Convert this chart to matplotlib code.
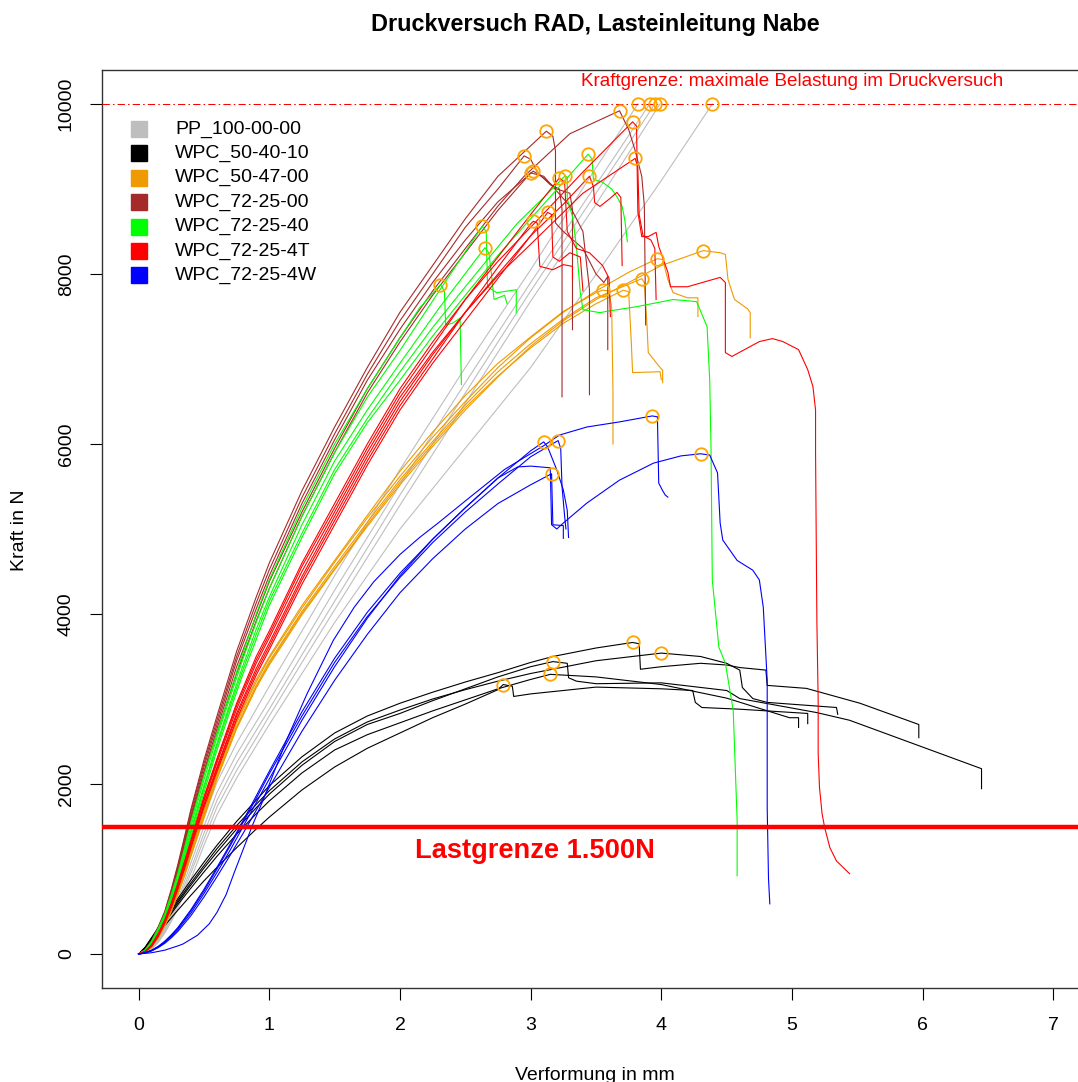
import matplotlib
matplotlib.use("Agg")
import matplotlib.pyplot as plt
import numpy as np

plt.rcParams['font.family'] = ['Liberation Sans', 'DejaVu Sans']

# %% Messdaten: Verformung (mm) und Kraft (N) je Probe
# Anstieg auf gemeinsamen Stuetzstellen (*_grid), danach probenspezifischer Verlauf (*_tail)

pp_grid = [0, 0.05, 0.1, 0.15, 0.2, 0.25, 0.3, 0.35, 0.4, 0.5, 0.6, 0.75, 0.9, 1.0, 1.25, 1.5,
           2.0, 2.5, 3.0, 3.5]
pp_rise = [
    [0, 20, 80, 180, 320, 490, 690, 910, 1150, 1600, 2020, 2480, 2880, 3150, 3800, 4450, 5700, 6900, 8050, 9250],
    [0, 18, 72, 165, 295, 455, 640, 850, 1070, 1500, 1900, 2350, 2730, 2980, 3630, 4280, 5520, 6720, 7900, 9050],
    [0, 17, 68, 155, 280, 430, 605, 800, 1000, 1420, 1810, 2250, 2630, 2880, 3520, 4150, 5400, 6600, 7800, 8950],
    [0, 16, 63, 145, 262, 405, 570, 755, 950, 1350, 1730, 2160, 2540, 2800, 3430, 4050, 5280, 6480, 7680, 8820],
    [0, 15, 58, 135, 245, 380, 535, 710, 880, 1280, 1640, 2070, 2450, 2700, 3300, 3900, 5000, 5950, 6900],
]
pp_tail_x = [[3.82], [3.91], [3.95], [3.99], [3.58, 4.0, 4.39]]
pp_tail_y = [[10000], [10000], [10000], [10000], [8170, 9100, 10000]]

k_grid = [0, 0.05, 0.1, 0.15, 0.2, 0.3, 0.4, 0.5, 0.6, 0.75, 0.9, 1.0, 1.25, 1.5, 1.75, 2.0,
          2.25, 2.5, 2.75, 3.0]
k_rise = [
    [0, 80, 195, 310, 425, 650, 870, 1080, 1280, 1560, 1810, 1980, 2320, 2600, 2800, 2950, 3080, 3200, 3310, 3430],
    [0, 75, 185, 295, 405, 625, 835, 1040, 1240, 1510, 1760, 1920, 2260, 2530, 2730, 2870, 3000, 3110, 3210, 3300],
    [0, 72, 178, 285, 390, 605, 810, 1010, 1200, 1470, 1720, 1880, 2220, 2500, 2700, 2830, 2980, 3120, 3260, 3380],
    [0, 68, 168, 272, 372, 580, 775, 965, 1150, 1410, 1650, 1800, 2130, 2400, 2580, 2720, 2860, 2990, 3120, 3230],
    [0, 60, 150, 242, 335, 515, 690, 860, 1020, 1250, 1470, 1610, 1930, 2200, 2420, 2600, 2780, 2940, 3110],
]
k_tail_x = [
    [3.17, 3.5, 3.78, 3.83, 3.84, 4.0, 4.3, 4.5, 4.6, 4.8, 4.81, 5.11, 5.52, 5.97, 5.97],
    [3.5, 4.0, 4.3, 4.5, 4.6, 4.62, 4.7, 4.81, 5.34, 5.35],
    [3.17, 3.28, 3.29, 3.35, 3.5, 4.0, 4.5, 4.6, 5.19, 5.44, 6.45, 6.45],
    [3.15, 3.5, 4.0, 4.5, 4.98, 5.05, 5.05],
    [2.79, 2.86, 2.87, 3.0, 3.5, 4.0, 4.24, 4.26, 4.31, 4.6, 5.12, 5.12],
]
k_tail_y = [
    [3500, 3600, 3665, 3650, 3350, 3380, 3420, 3400, 3370, 3340, 3160, 3125, 2950, 2700, 2545],
    [3450, 3540, 3500, 3420, 3340, 3135, 3005, 2960, 2900, 2820],
    [3440, 3420, 3250, 3210, 3180, 3190, 3100, 3005, 2840, 2750, 2180, 1945],
    [3290, 3260, 3170, 3010, 2780, 2780, 2665],
    [3170, 3150, 3030, 3060, 3140, 3120, 3100, 2960, 2900, 2880, 2830, 2710],
]

o_grid = [0, 0.05, 0.1, 0.15, 0.2, 0.25, 0.3, 0.35, 0.4, 0.5, 0.6, 0.75, 0.9, 1.0, 1.25, 1.5,
          1.75, 2.0, 2.25, 2.5, 2.75, 3.0, 3.25, 3.5]
o_rise = [
    [0, 24, 85, 190, 330, 505, 700, 915, 1150, 1600, 2060, 2650, 3130, 3400, 3990, 4520, 5030, 5520,
     5970, 6400, 6790, 7150, 7450, 7700],
    [0, 25, 90, 200, 345, 525, 730, 950, 1190, 1660, 2120, 2720, 3200, 3480, 4070, 4610, 5130, 5620,
     6080, 6500, 6900, 7250, 7550, 7800],
    [0, 24, 88, 196, 335, 515, 715, 935, 1170, 1630, 2090, 2680, 3160, 3440, 4030, 4560, 5080, 5580,
     6030, 6460, 6850, 7180, 7470, 7720],
    [0, 23, 86, 192, 330, 505, 705, 925, 1160, 1620, 2070, 2660, 3140, 3420, 4010, 4530, 5050, 5550,
     6000, 6430, 6800, 7130, 7420, 7650],
    [0, 26, 92, 205, 350, 535, 740, 965, 1200, 1680, 2140, 2740, 3230, 3500, 4100, 4630, 5160, 5680,
     6140, 6570, 6950, 7260, 7560, 7780],
]
o_tail_x = [
    [3.75, 4.0, 4.32, 4.45, 4.49, 4.51, 4.56, 4.66, 4.68, 4.68],
    [3.75, 3.97, 4.01, 4.05, 4.09, 4.2, 4.28, 4.28],
    [3.75, 3.85, 3.87, 3.89, 3.9, 3.99, 4.01, 4.01],
    [3.71, 3.75, 3.77, 3.78, 3.99, 4.0],
    [3.55, 3.6, 3.62, 3.63, 3.63],
]
o_tail_y = [
    [7900, 8100, 8275, 8250, 8230, 7935, 7700, 7590, 7545, 7250],
    [8020, 8180, 8170, 7935, 7780, 7720, 7720, 7500],
    [7880, 7945, 7900, 7400, 7075, 6900, 6870, 6720],
    [7810, 7790, 7200, 6840, 6850, 6755],
    [7810, 7800, 7600, 6600, 6000],
]

b_grid = [0, 0.05, 0.1, 0.15, 0.2, 0.25, 0.3, 0.35, 0.4, 0.5, 0.6, 0.75, 0.9, 1.0, 1.25, 1.5,
          1.75, 2.0, 2.25, 2.5, 2.75]
b_rise = [
    [0, 45, 145, 295, 465, 710, 985, 1290, 1600, 2150, 2650, 3380, 3980, 4380, 5200, 5950, 6650, 7250, 7800, 8300, 8800],
    [0, 50, 160, 320, 500, 760, 1050, 1370, 1700, 2280, 2800, 3560, 4200, 4600, 5450, 6200, 6900, 7550, 8100, 8650, 9150],
    [0, 48, 155, 312, 490, 745, 1030, 1345, 1670, 2240, 2750, 3500, 4130, 4520, 5370, 6120, 6820, 7450, 8000, 8550, 9000],
    [0, 47, 150, 305, 478, 728, 1005, 1315, 1630, 2200, 2700, 3450, 4060, 4450, 5300, 6050, 6750, 7350, 7900, 8400, 8850],
    [0, 44, 142, 290, 455, 695, 965, 1265, 1570, 2120, 2600, 3300, 3920, 4300, 5150, 5900, 6600, 7200, 7750, 8250, 8750],
]
b_tail_x = [
    [2.95, 3.3, 3.68, 3.75, 3.8, 3.85, 3.87, 3.88],
    [3.12, 3.17, 3.19, 3.19, 3.25, 3.4, 3.5, 3.56, 3.59, 3.59],
    [2.95, 3.0, 3.05, 3.15, 3.22, 3.24, 3.24],
    [3.02, 3.08, 3.2, 3.3, 3.32, 3.32],
    [3.0, 3.1, 3.3, 3.4, 3.45, 3.45],
]
b_tail_y = [
    [9150, 9650, 9920, 9700, 9450, 9150, 8800, 7400],
    [9680, 9620, 9450, 8600, 8500, 8300, 8000, 7900, 7970, 7110],
    [9390, 9350, 9200, 9050, 9000, 8760, 6555],
    [9210, 9150, 9000, 8950, 8760, 7345],
    [9190, 9150, 8800, 8500, 7820, 6580],
]

g_grid = [0, 0.05, 0.1, 0.15, 0.2, 0.25, 0.3, 0.35, 0.4, 0.5, 0.6, 0.7, 0.8, 0.9, 1.0, 1.25,
          1.5, 1.75, 2.0]
g_rise = [
    [0, 45, 150, 300, 470, 700, 950, 1240, 1550, 2100, 2600, 3080, 3550, 4000, 4400, 5250, 6000, 6650, 7250],
    [0, 43, 140, 285, 450, 670, 920, 1200, 1500, 2050, 2550, 3020, 3480, 3900, 4300, 5150, 5900, 6550, 7100],
    [0, 42, 135, 275, 430, 645, 880, 1160, 1450, 1980, 2480, 2950, 3400, 3820, 4200, 5050, 5800, 6400, 6950],
    [0, 41, 130, 268, 420, 630, 860, 1135, 1420, 1950, 2450, 2910, 3350, 3760, 4150, 4950, 5700, 6300, 6850],
    [0, 40, 125, 258, 400, 605, 830, 1100, 1380, 1900, 2400, 2860, 3300, 3700, 4100, 4900, 5650, 6250, 6750],
]
g_tail_x = [
    [2.15, 2.31, 2.34, 2.35, 2.4, 2.46, 2.47],
    [2.3, 2.63, 2.66, 2.67, 2.74, 2.89, 2.89],
    [2.3, 2.65, 2.68, 2.7, 2.72, 2.8, 2.82],
    [2.25, 2.5, 2.75, 2.9, 3.1, 3.26, 3.28, 3.28, 3.32, 3.35, 3.38, 3.4, 3.53, 3.58, 3.81, 4.09,
     4.27, 4.35, 4.37, 4.38, 4.39, 4.44, 4.49, 4.55, 4.58, 4.58],
    [2.25, 2.5, 2.75, 3.0, 3.25, 3.44, 3.47, 3.48, 3.55, 3.62, 3.66, 3.7, 3.72, 3.74],
]
g_tail_y = [
    [7600, 7875, 7800, 7400, 7420, 7480, 6700],
    [7800, 8560, 8500, 7850, 7780, 7815, 7545],
    [7600, 8310, 8250, 8000, 7700, 7750, 7650],
    [7370, 7850, 8320, 8600, 8900, 9150, 9140, 8880, 8680, 8325, 7780, 7580, 7545, 7560, 7615, 7700,
     7675, 7380, 6755, 5965, 4400, 3610, 3420, 2865, 1570, 920],
    [7270, 7750, 8220, 8650, 9080, 9410, 9350, 9115, 9080, 9000, 8910, 8795, 8640, 8380],
]

r_grid = [0, 0.05, 0.1, 0.15, 0.2, 0.25, 0.3, 0.35, 0.4, 0.5, 0.6, 0.75, 0.9, 1.0, 1.25, 1.5,
          1.75, 2.0, 2.25, 2.5, 2.75, 3.0]
r_rise = [
    [0, 30, 110, 240, 400, 600, 830, 1080, 1340, 1850, 2300, 2950, 3500, 3800, 4600, 5300, 6000, 6650,
     7200, 7700, 8150, 8550],
    [0, 28, 100, 225, 380, 575, 800, 1045, 1300, 1800, 2250, 2880, 3420, 3720, 4500, 5200, 5900, 6550,
     7080, 7550, 7980, 8350],
    [0, 27, 95, 215, 370, 560, 780, 1020, 1270, 1760, 2200, 2830, 3360, 3660, 4440, 5150, 5850, 6500,
     7050, 7550, 8000, 8450],
    [0, 29, 105, 232, 390, 588, 820, 1065, 1320, 1820, 2280, 2920, 3460, 3760, 4560, 5250, 5950, 6600,
     7150, 7700, 8200, 8700],
    [0, 26, 90, 205, 360, 545, 760, 995, 1240, 1720, 2150, 2760, 3280, 3580, 4350, 5050, 5750, 6400,
     6950, 7450, 7950, 8450],
    [0, 27, 95, 212, 370, 555, 780, 1015, 1270, 1750, 2180, 2800, 3320, 3620, 4400, 5100, 5800, 6450,
     7000, 7550, 8080, 8590],
]
r_tail_x = [
    [3.4, 3.78, 3.81, 3.82, 3.85, 3.9, 3.96, 3.98, 4.05, 4.07, 4.2, 4.45, 4.49, 4.49, 4.54, 4.75,
     4.85, 4.93, 5.05, 5.12, 5.16, 5.18, 5.18, 5.19, 5.2, 5.2, 5.21, 5.23, 5.25, 5.29, 5.34, 5.44],
    [3.4, 3.8, 3.82, 3.83, 3.86, 3.92, 3.95, 3.96],
    [3.25, 3.45, 3.48, 3.49, 3.53, 3.6, 3.66, 3.69, 3.7],
    [3.22, 3.26, 3.28, 3.35, 3.45, 3.55, 3.6, 3.61],
    [3.13, 3.16, 3.17, 3.22, 3.3, 3.38, 3.4],
    [3.02, 3.05, 3.07, 3.17, 3.25, 3.32, 3.32],
]
r_tail_y = [
    [9200, 9790, 9740, 8735, 8440, 8440, 8490, 8325, 8020, 7850, 7850, 7960, 7900, 7075, 7030, 7205,
     7240, 7205, 7110, 6875, 6675, 6400, 5910, 3925, 2980, 2360, 1960, 1650, 1485, 1250, 1095, 945],
    [8950, 9360, 9250, 8700, 8450, 8400, 8300, 7700],
    [8820, 9150, 9030, 8840, 8795, 8880, 8960, 8900, 8100],
    [9130, 9080, 8500, 8300, 8250, 8100, 7950, 7500],
    [8725, 8700, 8200, 8150, 8250, 8200, 7800],
    [8620, 8600, 8090, 8050, 8110, 8090, 7935],
]

w_grid = [0, 0.05, 0.1, 0.15, 0.2, 0.25, 0.3, 0.4, 0.5, 0.6, 0.7, 0.8, 0.9, 1.0, 1.25, 1.5,
          1.75, 2.0, 2.25, 2.5, 2.75]
w_rise = [
    [],
    [0, 13, 40, 80, 135, 205, 285, 480, 710, 960, 1220, 1500, 1780, 2060, 2750, 3380, 3950, 4450, 4880, 5250, 5600],
    [0, 15, 45, 90, 150, 225, 310, 520, 760, 1020, 1290, 1570, 1860, 2150, 2850, 3480, 4020, 4480, 4880, 5250, 5600],
    [0, 12, 36, 75, 125, 190, 265, 450, 670, 910, 1160, 1420, 1690, 1960, 2620, 3220, 3760, 4250, 4650, 5000, 5300],
    [0, 14, 42, 85, 142, 215, 300, 505, 740, 1000, 1270, 1550, 1830, 2120, 2800, 3430, 3970, 4430, 4840, 5200, 5530],
]
w_tail_x = [
    [0, 0.1, 0.2, 0.3, 0.34, 0.45, 0.54, 0.6, 0.67, 0.73, 0.8, 0.87, 0.95, 1.13, 1.29, 1.49, 1.65,
     1.8, 2.0, 2.15, 2.3, 2.5, 2.8, 3.1, 3.22, 3.43, 3.68, 3.93, 3.97, 3.98, 4.01, 4.03, 4.05],
    [2.9, 3.0, 3.15, 3.16, 3.2, 3.25, 3.43, 3.68, 3.94, 4.15, 4.3, 4.37, 4.43, 4.45, 4.47, 4.58,
     4.7, 4.75, 4.78, 4.81, 4.81, 4.82, 4.83],
    [3.0, 3.1, 3.13, 3.2, 3.25, 3.28, 3.29],
    [3.0, 3.16, 3.17, 3.25, 3.25],
    [3.0, 3.21, 3.23, 3.24, 3.26, 3.27],
]
w_tail_y = [
    [0, 15, 45, 95, 118, 220, 354, 490, 700, 950, 1230, 1510, 1800, 2510, 3065, 3690, 4080, 4380,
     4700, 4900, 5080, 5330, 5700, 5980, 6105, 6200, 6260, 6330, 6320, 5540, 5450, 5400, 5375],
    [5730, 5740, 5720, 5050, 5000, 5070, 5305, 5575, 5775, 5860, 5885, 5870, 5660, 5070, 4870, 4630,
     4515, 4400, 4080, 3220, 1720, 885, 590],
    [5920, 6025, 5965, 5695, 5460, 5220, 4900],
    [5520, 5650, 5050, 5040, 4890],
    [5850, 6040, 5950, 5500, 5150, 5000],
]

series_names = ["PP_100-00-00", "WPC_50-40-10", "WPC_50-47-00", "WPC_72-25-00",
                "WPC_72-25-40", "WPC_72-25-4T", "WPC_72-25-4W"]
series_colors = ["#BEBEBE", "#000000", "#EE9A00", "#A52A2A", "#00FF00", "#FF0000", "#0000FF"]
series_data = [
    (pp_grid, pp_rise, pp_tail_x, pp_tail_y),
    (k_grid, k_rise, k_tail_x, k_tail_y),
    (o_grid, o_rise, o_tail_x, o_tail_y),
    (b_grid, b_rise, b_tail_x, b_tail_y),
    (g_grid, g_rise, g_tail_x, g_tail_y),
    (r_grid, r_rise, r_tail_x, r_tail_y),
    (w_grid, w_rise, w_tail_x, w_tail_y),
]

KRAFTGRENZE = 10000
LASTGRENZE = 1500
MAX_COLOR = "#FFA500"


def curves(grid, rise, tail_x, tail_y):
    for r, tx, ty in zip(rise, tail_x, tail_y):
        yield grid[:len(r)] + tx, r + ty


# %% Plot
W, H = 1078, 1082
fig = plt.figure(figsize=(W / 100, H / 100), dpi=100)
ax = fig.add_axes([102 / W, 1 - 988 / H, 988 / W, 918 / H])

for col, data in zip(series_colors, series_data):
    for x, y in curves(*data):
        ax.plot(x, y, color=col, lw=0.8, zorder=2)

# Maximalkraft jeder Probe markieren
for data in series_data:
    for x, y in curves(*data):
        i = int(np.argmax(y))
        ax.plot(x[i], y[i], 'o', mfc='none', mec=MAX_COLOR, ms=9, mew=1.3, zorder=4)

ax.axhline(KRAFTGRENZE, color='red', lw=0.75, ls=(0, (7, 3, 1.5, 3)), zorder=3)
ax.text(5.0, 10265, "Kraftgrenze: maximale Belastung im Druckversuch",
        color='red', fontsize=13.6, ha='center', va='center')
ax.axhline(LASTGRENZE, color='red', lw=3.2, zorder=5)
ax.text(3.03, 1210, "Lastgrenze 1.500N", color='red', fontsize=19.6,
        fontweight='bold', ha='center', va='center')

ax.set_xlim(-0.28, 7.28)
ax.set_ylim(-400, 10400)
ax.set_xticks(range(0, 8))
ax.set_yticks(range(0, 10001, 2000))
ax.tick_params(axis='both', direction='out', length=8.6, width=0.8, labelsize=14)
ax.tick_params(axis='x', pad=12)
ax.tick_params(axis='y', pad=11)
for lbl in ax.get_yticklabels():
    lbl.set_rotation(90)
    lbl.set_va('center')
for sp in ax.spines.values():
    sp.set_color('#333333')
    sp.set_linewidth(1.0)

# Legende (Quadrate + Text)
for i, (name, col) in enumerate(zip(series_names, series_colors)):
    yy = 0.9357 - i * 0.02658
    ax.plot([0.0374], [yy], 's', color=col, ms=12, transform=ax.transAxes, clip_on=False)
    ax.text(0.0739, yy, name, fontsize=14, ha='left', va='center', transform=ax.transAxes)

fig.text(595 / W, 1 - 25 / H, "Druckversuch RAD, Lasteinleitung Nabe",
         fontsize=16.8, fontweight='bold', ha='center', va='center')
fig.text(20 / W, 1 - 530 / H, "Kraft in N", fontsize=14, rotation=90, ha='center', va='center')
fig.text(595 / W, 1 - 1075 / H, "Verformung in mm", fontsize=14, ha='center', va='center')

fig.savefig("out.png", dpi=100)
